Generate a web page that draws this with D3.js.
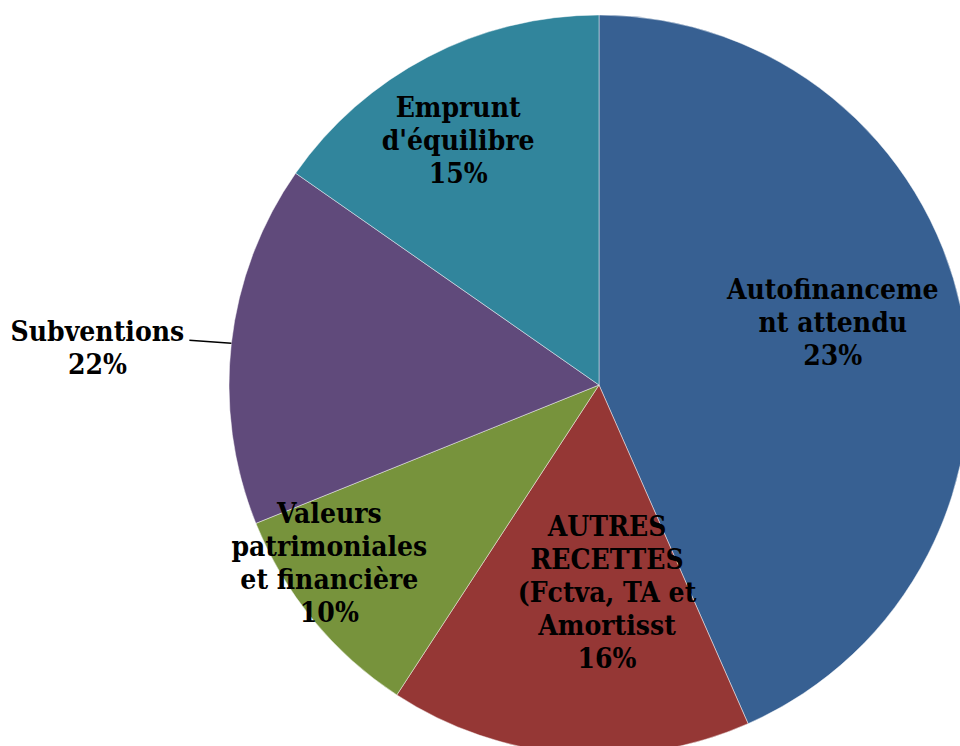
<!DOCTYPE html>
<html>
<head>
  <meta charset="utf-8">
  <script src="https://d3js.org/d3.v7.min.js"></script>
  <style>
    body { margin: 0; background: #fff; }
    svg text {
      font-family: "DejaVu Serif Condensed", "DejaVu Serif", serif;
      font-weight: bold;
      font-size: 28px;
      fill: #000;
    }
  </style>
</head>
<body>
  <div id="chart"></div>
  <script>
    // slices, clockwise from 12 o'clock
    const categories = [
      "Autofinancement attendu",
      "AUTRES RECETTES (Fctva, TA et Amortisst",
      "Valeurs patrimoniales et financière",
      "Subventions",
      "Emprunt d'équilibre"
    ];
    const values = [43.4, 15.8, 9.7, 15.8, 15.3];
    const pctLabels = ["23%", "16%", "10%", "22%", "15%"];
    const labelLines = [
      ["Autofinanceme", "nt attendu"],
      ["AUTRES", "RECETTES", "(Fctva, TA et", "Amortisst"],
      ["Valeurs", "patrimoniales", "et financière"],
      ["Subventions"],
      ["Emprunt", "d'équilibre"]
    ];
    const colors = ["#376092", "#953735", "#77933c", "#604a7b", "#31859c"];

    const w = 960, h = 746;
    const cx = 599, cy = 385, r = 370;
    const lineH = 33;

    // label placement: radius fraction + nudge
    const labelR = [0.654, 0.562, 0.87, 1.0, 0.765];
    const nudge = [[-3, -13], [25, 0], [-21, -27], [0, 0], [-10, 6]];

    const svg = d3.select("#chart").append("svg")
      .attr("width", w)
      .attr("height", h);

    const g = svg.append("g")
      .attr("transform", "translate(" + cx + "," + cy + ")");

    const pie = d3.pie().sort(null).value(d => d);
    const arcs = pie(values);
    const arc = d3.arc().innerRadius(0).outerRadius(r);

    g.selectAll("path.slice")
      .data(arcs)
      .enter()
      .append("path")
      .attr("class", "slice")
      .attr("d", arc)
      .attr("fill", (d, i) => colors[i])
      .attr("stroke", "rgba(255,255,255,0.45)")
      .attr("stroke-width", 1);

    arcs.forEach((d, i) => {
      const mid = (d.startAngle + d.endAngle) / 2;
      const lines = labelLines[i].concat([pctLabels[i]]);
      let x, y;
      if (i === 3) {
        // outside label with leader line
        const ex = r * Math.sin(mid), ey = -r * Math.cos(mid);
        const lx = ex - 42, ly = ey - 3;
        g.append("path")
          .attr("d", "M" + ex + "," + ey + "L" + lx + "," + ly)
          .attr("stroke", "#000")
          .attr("stroke-width", 1.5)
          .attr("fill", "none");
        x = lx - 92;
        y = ly + 7;
      } else {
        const rr = r * labelR[i];
        x = rr * Math.sin(mid) + nudge[i][0];
        y = -rr * Math.cos(mid) + nudge[i][1];
      }
      const t = g.append("text")
        .attr("text-anchor", "middle");
      const y0 = y - (lines.length - 1) * lineH / 2;
      lines.forEach((ln, j) => {
        t.append("tspan")
          .attr("x", x)
          .attr("y", y0 + j * lineH)
          .attr("dy", "0.35em")
          .text(ln);
      });
    });
  </script>
</body>
</html>
